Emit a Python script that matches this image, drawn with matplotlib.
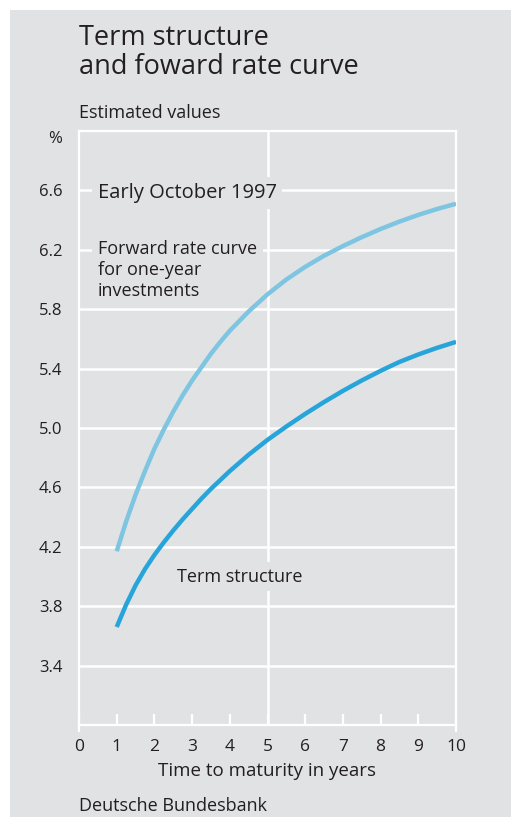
"""
Term structure and forward rate curve, early October 1997
(Deutsche Bundesbank style chart)
"""

###############################################################################
# Import packages:
import matplotlib.pyplot as plt
from matplotlib.patches import Rectangle

###############################################################################
# Data:

# Maturity in years
maturity = [1, 1.25, 1.5, 1.75, 2, 2.25, 2.5, 2.75, 3, 3.25, 3.5, 3.75, 4,
            4.5, 5, 5.5, 6, 6.5, 7, 7.5, 8, 8.5, 9, 9.5, 10]

# Forward rate curve for one-year investments, %
forward_rate = [4.17, 4.37, 4.55, 4.71, 4.86, 4.99, 5.11, 5.22, 5.32, 5.41,
                5.50, 5.58, 5.655, 5.785, 5.90, 6.00, 6.085, 6.16, 6.225,
                6.285, 6.34, 6.39, 6.435, 6.475, 6.51]

# Term structure, %
term_structure = [3.66, 3.81, 3.94, 4.05, 4.145, 4.23, 4.31, 4.385, 4.455,
                  4.525, 4.59, 4.65, 4.71, 4.82, 4.92, 5.01, 5.095, 5.175,
                  5.25, 5.32, 5.385, 5.445, 5.495, 5.54, 5.58]

yticks = [3.4, 3.8, 4.2, 4.6, 5.0, 5.4, 5.8, 6.2, 6.6]
xticks = list(range(0, 11))

###############################################################################
# Plot:

W, H = 511, 817
bg = '#e1e2e4'
txt = '#231f20'
plt.rcParams['font.family'] = ['Open Sans', 'DejaVu Sans']


def px(x, y):
    # pixel position (from top-left) -> figure fraction
    return x / W, 1 - y / H


fig = plt.figure(figsize=(W / 100, H / 100), dpi=100, facecolor='white')
fig.patches.append(Rectangle(px(10, H), (W - 10) / W, (H - 10) / H,
                             transform=fig.transFigure, facecolor=bg,
                             edgecolor='none', zorder=-10))

# Axes placed by pixel box: left 79, right 456, top 131, bottom 725
ax = fig.add_axes([79 / W, 1 - 725 / H, (456 - 79) / W, (725 - 131) / H])
ax.set_facecolor('none')
ax.set_xlim(0, 10)
ax.set_ylim(3.0, 7.0)

for s in ax.spines.values():
    s.set_color('white')
    s.set_linewidth(1.6)

# Grid lines
ax.set_yticks(yticks)
ax.set_yticklabels([f'{v:.1f}' for v in yticks])
ax.grid(axis='y', color='white', linewidth=1.8, zorder=1)
ax.axvline(5, color='white', linewidth=1.8, zorder=1)
ax.set_axisbelow(True)

# Ticks
ax.set_xticks(xticks)
ax.set_xticks([0, 10], minor=True)
ax.xaxis.remove_overlapping_locs = False
ax.tick_params(axis='x', which='major', direction='in', length=8, width=1.6,
               color='white', labelsize=12.5, labelcolor=txt, pad=10)
ax.tick_params(axis='x', which='minor', direction='out', length=5, width=1.6,
               color='white')
ax.tick_params(axis='y', length=0, labelsize=12, labelcolor=txt, pad=12)

# Curves (above the label boxes)
ax.plot(maturity, forward_rate, color='#7ec5e2', linewidth=3.2,
        solid_capstyle='butt', solid_joinstyle='round', zorder=5)
ax.plot(maturity, term_structure, color='#27a5da', linewidth=3.2,
        solid_capstyle='butt', solid_joinstyle='round', zorder=5)

# Annotations inside the plot
box = dict(facecolor=bg, edgecolor='none', pad=4)
ax.text(0.5, 6.6, 'Early October 1997', fontsize=14.5, color=txt,
        va='center_baseline', ha='left', bbox=box, zorder=4)
ax.text(0.5, 6.265, 'Forward rate curve\nfor one-year\ninvestments', fontsize=13,
        color=txt, va='top', ha='left', linespacing=1.22, bbox=box, zorder=4)
ax.text(2.6, 4.0, 'Term structure', fontsize=13, color=txt,
        va='center', ha='left', bbox=box, zorder=4)

ax.set_xlabel('Time to maturity in years', fontsize=13.5, color=txt,
              labelpad=5)

# Texts around the chart
fig.text(*px(79, 45), 'Term structure', fontsize=19.5, color=txt,
         ha='left', va='baseline')
fig.text(*px(79, 74), 'and foward rate curve', fontsize=19.5, color=txt,
         ha='left', va='baseline')
fig.text(*px(79, 113), 'Estimated values', fontsize=13, color=txt,
         ha='left', va='center')
fig.text(*px(62, 139), '%', fontsize=12, color=txt, ha='right', va='center')
fig.text(*px(79, 806), 'Deutsche Bundesbank', fontsize=13, color=txt,
         ha='left', va='center')

fig.savefig('out.png', dpi=100, facecolor='white')
